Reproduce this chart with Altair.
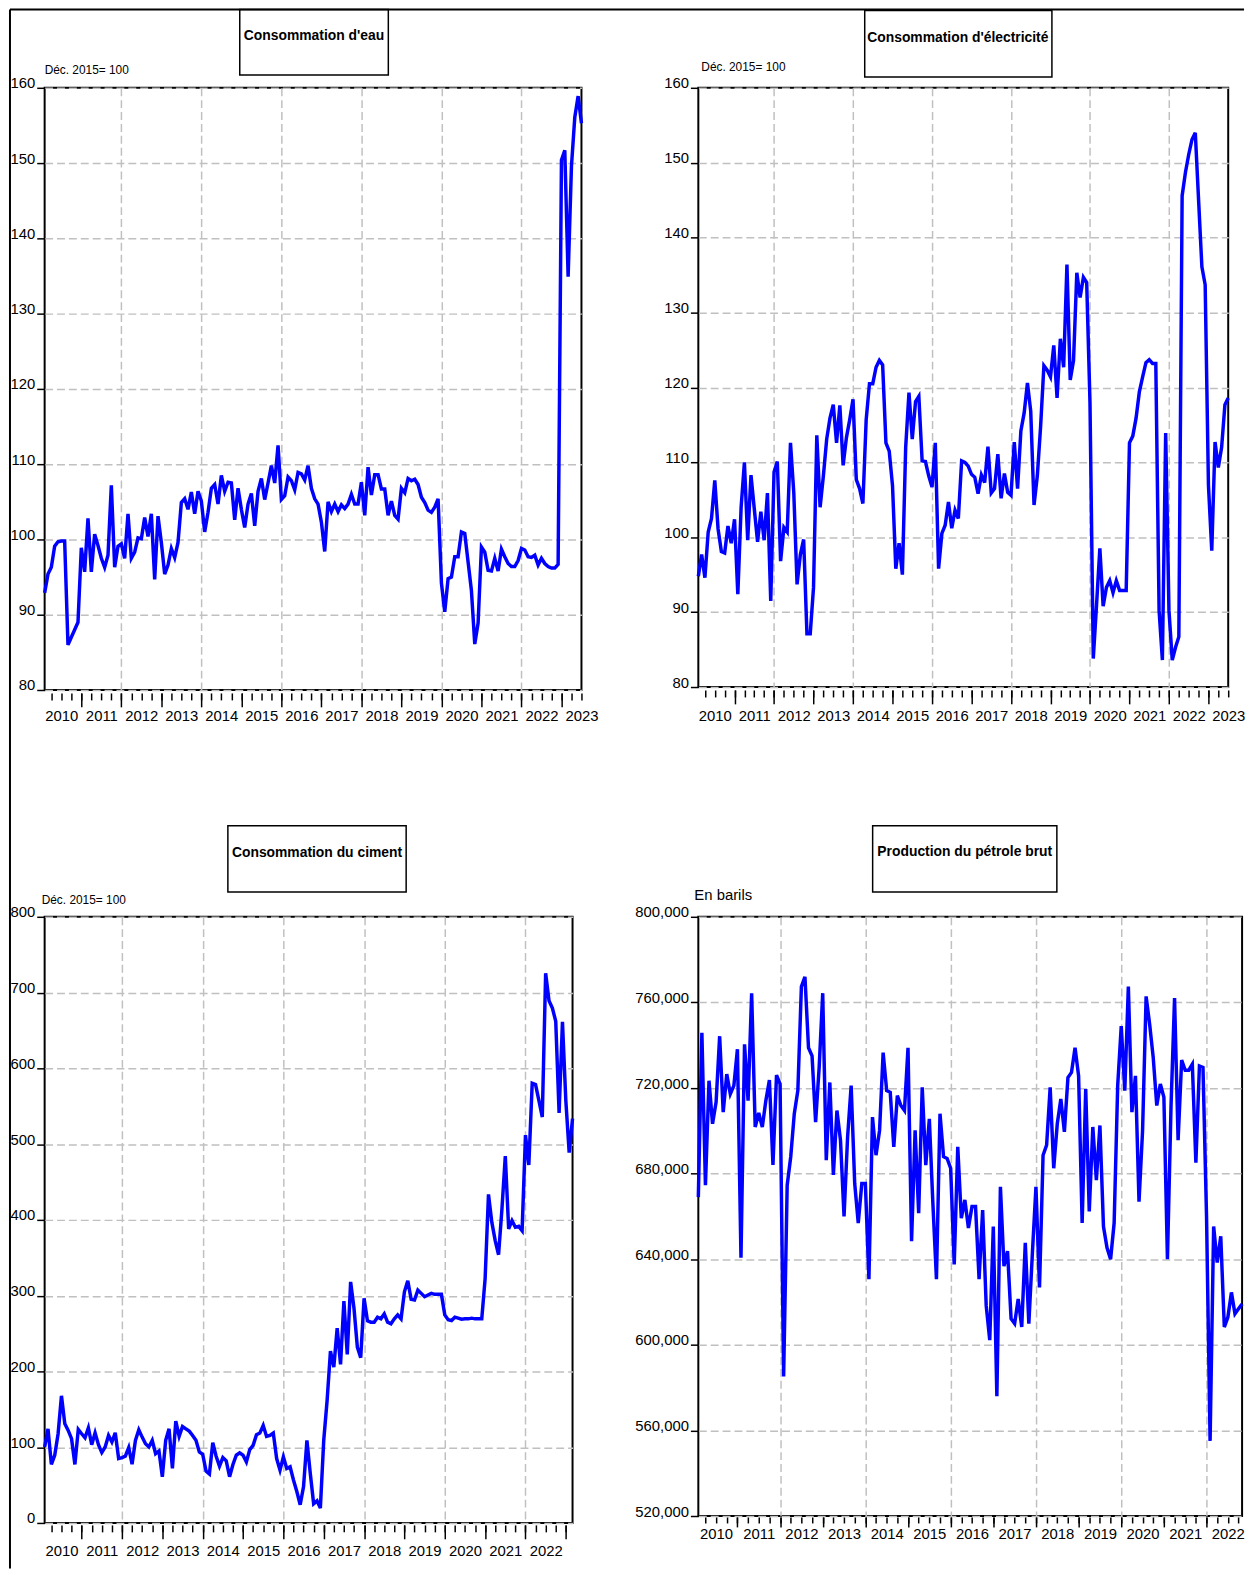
import altair as alt
import pandas as pd

# ---------------- data (monthly, first observation Feb 2010) ----------------
FIRST_YEAR = 2010
FIRST_MONTH = 2

water = [92.9, 95.4, 96.3, 99.1, 99.7, 99.8, 99.8, 86.0, 87.0, 88.0, 89.0, 98.9,
         95.7, 102.8, 95.7, 100.7, 99.2, 97.5, 96.3, 97.9, 107.2, 96.3, 99.1, 99.4,
         97.5, 103.4, 97.5, 98.3, 100.2, 100.1, 102.9, 100.4, 103.4, 94.7, 103.1, 99.6,
         95.4, 96.6, 98.8, 97.6, 99.6, 104.9, 105.4, 104.0, 106.3, 103.4, 106.4, 105.1,
         101.0, 103.6, 106.8, 107.3, 104.7, 108.5, 106.4, 107.6, 107.5, 102.6, 106.8, 104.0,
         101.6, 104.7, 106.1, 101.8, 106.4, 108.1, 105.3, 107.5, 109.8, 107.5, 112.5, 105.3,
         105.8, 108.3, 107.8, 106.6, 108.9, 108.7, 107.9, 109.8, 106.8, 105.4, 104.7, 102.3,
         98.4, 105.0, 103.7, 104.7, 103.7, 104.6, 104.1, 104.7, 106.0, 104.7, 104.7, 107.6,
         103.2, 109.6, 105.9, 108.6, 108.6, 106.7, 106.7, 103.2, 105.1, 103.2, 102.7, 106.8,
         106.2, 108.1, 107.8, 108.0, 107.3, 105.6, 104.9, 103.9, 103.6, 104.3, 105.4, 94.2,
         90.4, 94.8, 95.0, 97.7, 97.7, 101.0, 100.8, 97.0, 93.2, 86.1, 88.9, 99.0,
         98.3, 95.9, 95.8, 97.5, 95.8, 98.7, 97.7, 96.8, 96.4, 96.4, 97.2, 98.8,
         98.6, 97.7, 97.6, 97.9, 96.6, 97.5, 96.8, 96.4, 96.2, 96.2, 96.7, 150.4,
         151.7, 134.9, 149.6, 156.1, 158.9, 155.3]

electricity = [94.8, 97.7, 94.6, 100.7, 102.5, 107.6, 101.1, 98.1, 97.9, 101.5, 99.2, 102.4,
               92.4, 104.0, 110.0, 99.6, 108.3, 103.8, 99.4, 103.4, 99.6, 105.9, 91.5, 108.7,
               110.1, 96.8, 101.3, 100.7, 112.6, 106.0, 93.7, 97.7, 99.7, 87.1, 87.1, 93.3,
               113.6, 104.0, 108.2, 113.1, 115.9, 117.7, 112.6, 117.6, 109.6, 113.3, 115.7, 118.4,
               107.7, 106.5, 104.5, 115.7, 120.5, 120.5, 122.7, 123.6, 123.0, 112.6, 111.5, 106.9,
               95.8, 99.2, 95.0, 112.0, 119.3, 113.1, 118.1, 118.8, 110.2, 110.1, 108.2, 106.7,
               112.6, 95.8, 100.5, 101.6, 104.7, 101.2, 103.6, 102.5, 110.2, 110.0, 109.5, 108.4,
               108.0, 105.8, 108.3, 107.3, 112.1, 105.9, 106.5, 111.1, 105.2, 108.5, 106.0, 105.6,
               112.7, 106.5, 114.2, 116.6, 120.6, 116.8, 104.3, 108.2, 114.8, 122.9, 122.3, 121.4,
               125.6, 118.6, 126.5, 122.7, 136.4, 121.0, 123.6, 135.3, 132.0, 134.7, 134.0, 118.0,
               83.8, 91.0, 98.5, 90.8, 93.3, 94.2, 92.6, 94.2, 92.9, 92.9, 92.9, 112.6,
               113.5, 115.9, 119.4, 121.4, 123.3, 123.7, 123.2, 123.2, 90.2, 83.6, 113.9, 90.2,
               83.6, 85.3, 86.7, 145.6, 148.7, 151.1, 153.1, 154.0, 145.0, 136.1, 133.7, 106.9,
               98.2, 112.7, 109.3, 112.0, 117.7, 118.6]

cement = [100.3, 124.2, 77.2, 89.4, 117.7, 167.8, 130.8, 122.1, 111.2, 77.2, 123.4, 117.7,
          112.5, 125.5, 103.3, 119.0, 103.3, 92.9, 100.3, 115.5, 106.8, 119.0, 85.0, 86.3,
          88.1, 99.4, 77.6, 109.0, 122.9, 113.3, 104.6, 100.3, 109.0, 91.5, 95.0, 61.0,
          109.0, 124.2, 71.9, 134.3, 114.2, 127.3, 124.2, 121.2, 115.5, 109.0, 93.7, 90.7,
          68.4, 64.5, 105.9, 88.1, 75.0, 86.3, 82.0, 61.0, 77.2, 89.4, 92.4, 89.4,
          80.6, 96.8, 102.4, 116.4, 118.6, 128.6, 114.2, 115.5, 118.6, 85.0, 69.7, 87.2,
          71.9, 74.1, 56.7, 41.4, 24.0, 48.0, 109.0, 65.4, 25.3, 29.2, 19.6, 109.0,
          161.3, 226.7, 205.8, 257.2, 209.2, 292.9, 222.3, 318.2, 283.3, 231.9, 218.0, 296.4,
          266.8, 265.0, 265.0, 271.6, 269.4, 275.9, 265.0, 262.9, 269.4, 274.6, 269.4, 305.1,
          319.5, 295.1, 294.2, 307.3, 303.0, 298.6, 300.8, 303.0, 301.7, 301.7, 301.7, 274.6,
          268.1, 267.2, 271.6, 270.3, 269.0, 269.4, 269.4, 270.3, 269.4, 269.4, 269.4, 322.6,
          433.7, 396.7, 372.7, 354.0, 414.1, 484.3, 388.0, 398.9, 390.2, 391.5, 385.8, 511.8,
          472.5, 580.2, 578.5, 557.5, 535.7, 725.4, 689.2, 679.6, 662.2, 541.0, 661.3, 557.5,
          488.7, 533.6]

# crude oil production, thousands of barrels
oil_k = [669.0, 745.8, 674.6, 723.4, 703.3, 713.4, 744.2, 708.7, 726.5, 717.2, 721.1, 738.1,
         640.7, 740.4, 714.1, 764.3, 701.8, 708.3, 701.8, 714.1, 723.7, 684.0, 726.0, 721.9,
         585.2, 674.6, 687.9, 708.0, 718.8, 767.4, 772.0, 738.8, 735.0, 704.1, 729.6, 764.3,
         686.3, 722.6, 679.4, 709.5, 695.6, 660.0, 697.1, 721.1, 675.4, 656.9, 675.4, 675.4,
         630.7, 706.4, 688.6, 700.2, 736.5, 718.8, 718.0, 692.5, 716.4, 711.8, 709.5, 738.8,
         648.4, 700.2, 661.5, 720.3, 684.0, 705.6, 666.0, 630.7, 708.0, 687.9, 687.1, 682.5,
         637.6, 692.5, 659.2, 667.7, 654.6, 664.6, 664.6, 630.7, 663.0, 618.3, 602.2, 655.3,
         576.0, 673.8, 636.8, 643.8, 612.2, 609.9, 621.4, 608.3, 647.6, 609.9, 643.0, 673.8,
         626.8, 688.6, 693.3, 720.3, 682.5, 703.3, 714.9, 699.5, 724.9, 727.3, 738.8, 725.7,
         656.9, 719.5, 662.3, 701.8, 676.9, 702.5, 655.3, 645.3, 640.0, 656.9, 721.1, 748.9,
         718.8, 767.4, 708.7, 725.7, 666.9, 700.0, 762.8, 749.7, 734.2, 711.8, 721.9, 715.7,
         640.0, 711.0, 762.0, 695.6, 733.0, 728.3, 728.3, 731.1, 685.1, 730.3, 729.6, 660.0,
         555.1, 655.3, 638.4, 650.7, 608.3, 612.9, 624.5, 614.5, 616.8, 619.1]
oil = [v * 1000 for v in oil_k]

titles = ["Consommation d'eau", "Consommation d'électricité",
          "Consommation du ciment", "Production du pétrole brut"]
units = ["Déc. 2015= 100", "Déc. 2015= 100", "Déc. 2015= 100", "En barils"]

# ---------------- styling ----------------
FONT = "Liberation Sans, Arial, Helvetica, sans-serif"
BLUE = "#0000FF"
GRID = "#c0c0c0"
DASH = [8, 4]
TICKFS = 15


def series(vals):
    t = [FIRST_YEAR + (FIRST_MONTH - 1 + i) / 12 for i in range(len(vals))]
    return pd.DataFrame({"t": t, "v": vals})


def panel(vals, ydomain, ystep, yfmt, w, h, title, box, title_xy, unit, unit_xy,
          unit_size, xoff, short_tick, long_tick, lab_pad, frame=None):
    df = series(vals)
    t0, t1 = float(df.t.min()), float(df.t.max())
    quarters = [y + k / 4 for y in range(2009, 2026) for k in range(4)]
    quarters = [q for q in quarters if t0 - 1e-9 <= q <= t1 + 1e-9]
    years = [q for q in quarters if q % 1 == 0]
    even = [q for q in years if q % 2 == 0]
    yvals = list(range(ydomain[0], ydomain[1] + 1, ystep))

    xs = alt.Scale(domain=[t0, t1], nice=False, zero=False)
    ys = alt.Scale(domain=ydomain, nice=False, zero=False)

    def yaxis():
        return alt.Axis(
            orient="left", values=yvals, format=yfmt, tickSize=8, tickWidth=1.5,
            tickColor="black", labelFont=FONT, labelFontSize=TICKFS, labelColor="black",
            labelPadding=2, labelBaseline="alphabetic", labelFlush=False,
            labelOverlap=False, grid=True, gridColor=GRID, gridDash=DASH,
            gridWidth=1.5, domain=False, title=None)

    base = alt.Chart(df)

    vgrid = base.mark_line(opacity=0).encode(
        x=alt.X("t:Q", scale=xs, axis=alt.Axis(
            orient="bottom", values=even, ticks=False, labels=False, domain=False,
            grid=True, gridColor=GRID, gridDash=DASH, gridWidth=1.5, title=None)),
        y=alt.Y("v:Q", scale=ys, axis=yaxis()))

    longt = base.mark_line(opacity=0).encode(
        x=alt.X("t:Q", scale=xs, axis=alt.Axis(
            orient="bottom", values=years, tickSize=long_tick, tickWidth=1.5,
            tickColor="black", offset=xoff, labels=False, grid=False, domain=False,
            title=None)),
        y=alt.Y("v:Q", scale=ys, axis=yaxis()))

    line = base.mark_line(color=BLUE, strokeWidth=3.5).encode(
        x=alt.X("t:Q", scale=xs, axis=alt.Axis(
            orient="bottom", values=quarters, tickSize=short_tick, tickWidth=1.5,
            tickColor="black", offset=xoff, grid=False, domain=False, title=None,
            labelExpr="datum.value % 1 == 0.5 ? '' + floor(datum.value) : ''",
            labelFont=FONT, labelFontSize=TICKFS, labelColor="black",
            labelPadding=lab_pad, labelBaseline="middle", labelOverlap=False,
            labelFlush=False, labelBound=False)),
        y=alt.Y("v:Q", scale=ys, axis=yaxis()))

    one = pd.DataFrame({"k": [0]})
    boxl = alt.Chart(one).mark_rect(fill="white", stroke="black", strokeWidth=1.5).encode(
        x=alt.value(box[0]), x2=alt.value(box[1]), y=alt.value(box[2]), y2=alt.value(box[3]))
    titl = alt.Chart(one).mark_text(
        font=FONT, fontSize=14, fontWeight="bold", align="center", baseline="middle",
        color="black").encode(x=alt.value(title_xy[0]), y=alt.value(title_xy[1]),
                              text=alt.value(title))
    unitl = alt.Chart(one).mark_text(
        font=FONT, fontSize=unit_size, align="left", baseline="alphabetic",
        color="black").encode(x=alt.value(unit_xy[0]), y=alt.value(unit_xy[1]),
                              text=alt.value(unit))
    layers = [vgrid, longt, line, boxl, titl, unitl]
    if frame:
        # outer border of the figure (top and left edges)
        top = alt.Chart(one).mark_rule(color="black", strokeWidth=2).encode(
            x=alt.value(frame[0]), x2=alt.value(frame[1]), y=alt.value(frame[2]))
        left = alt.Chart(one).mark_rule(color="black", strokeWidth=2).encode(
            x=alt.value(frame[0]), y=alt.value(frame[2]), y2=alt.value(frame[3]))
        layers += [top, left]

    return alt.layer(*layers).resolve_axis(x="independent").properties(width=w, height=h)


p1 = panel(water, [80, 160], 10, "d", 542, 608, titles[0], (197, 347, -79, -13),
           (272, -52), units[0], (0, -14), 12, 3, 7, 14, 16,
           frame=(-35, 1211, -79, 1495))
p2 = panel(electricity, [80, 160], 10, "d", 535, 605, titles[1], (168, 357, -78, -11),
           (262, -50), units[1], (3, -17), 12, 3, 7, 14, 19)
p3 = panel(cement, [0, 800], 100, "d", 533, 612, titles[2], (185, 365, -92, -25),
           (275, -64), units[2], (-3, -13), 12, 2, 7, 14, 19)
p4 = panel(oil, [520000, 800000], 40000, ",d", 549, 605, titles[3], (176, 362, -92, -25),
           (269, -65), units[3], (-4, -17), 15, 1, 6, 10, 11)

chart = alt.concat(p1, p2, p3, p4, columns=2, bounds="flush", align="all",
                   spacing={"row": 225, "column": 111}).properties(
    padding={"top": -8, "left": 0, "right": 0, "bottom": 0},
    background="white").configure_view(stroke="black", strokeWidth=2)

chart.save("out.html", embed_options={"renderer": "svg", "actions": False})
